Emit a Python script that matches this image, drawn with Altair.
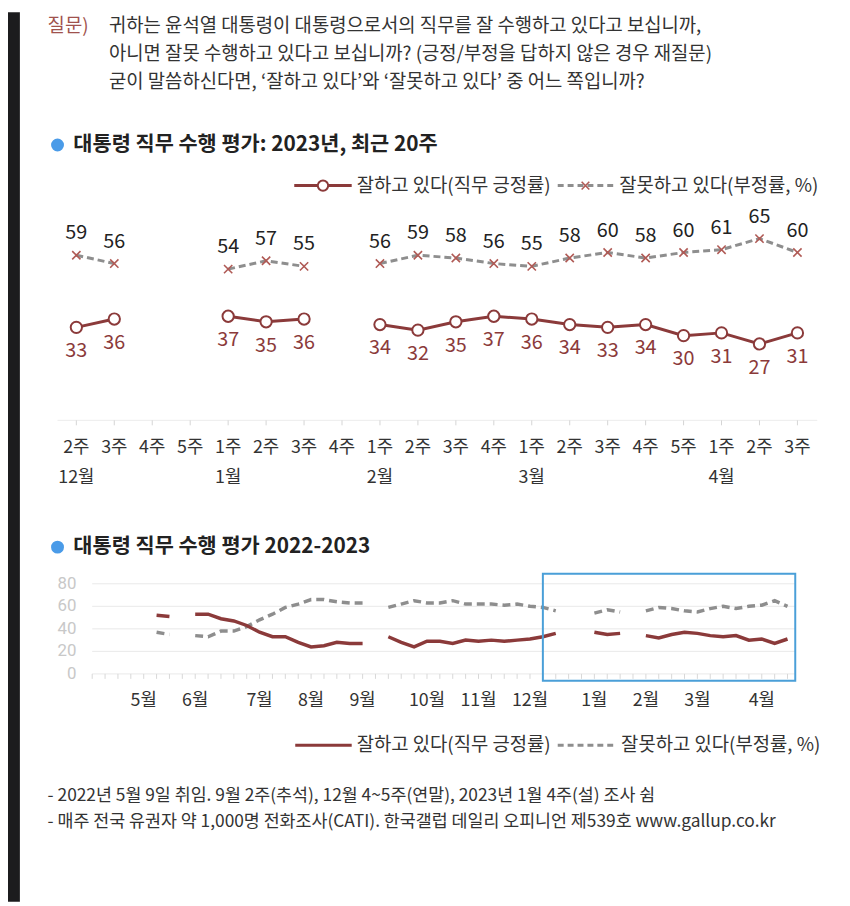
import altair as alt
import pandas as pd

FONT = "Noto Sans CJK KR"
RED = "#8b3a3a"
XRED = "#b05a55"
GRAY = "#8e8e8e"
TXT = "#333333"

# ---------------- data: top chart (2023, last 20 weeks) ----------------
top_week_labels = ["2주", "3주", "4주", "5주", "1주", "2주", "3주", "4주", "1주", "2주",
                   "3주", "4주", "1주", "2주", "3주", "4주", "5주", "1주", "2주", "3주"]
top_month_labels = ["12월", "1월", "2월", "3월", "4월"]
top_month_pos = [0, 4, 8, 12, 17]
top_positive = [33, 36, None, None, 37, 35, 36, None, 34, 32, 35, 37, 36, 34, 33, 34, 30, 31, 27, 31]
top_negative = [59, 56, None, None, 54, 57, 55, None, 56, 59, 58, 56, 55, 58, 60, 58, 60, 61, 65, 60]

# ---------------- data: bottom chart (weekly, index 0 = 2022년 5월 1주) ----------------
bot_month_labels = ["5월", "6월", "7월", "8월", "9월", "10월", "11월", "12월", "1월", "2월", "3월", "4월"]
bot_month_pos = [0, 4, 9, 13, 17, 22, 26, 30, 35, 39, 43, 48]
bot_positive = [None, 52, 51, None, 53, 53, 49, 47, 43, 37, 33, 33, 28, 24, 25, 28, 27, 27, None,
                33, 28, 24, 29, 29, 27, 30, 29, 30, 29, 30, 31, 33, 36, None, None,
                37, 35, 36, None, 34, 32, 35, 37, 36, 34, 33, 34, 30, 31, 27, 31]
bot_negative = [None, 37, 35, None, 34, 33, 38, 38, 42, 48, 53, 59, 62, 66, 66, 64, 63, 63, None,
                59, 62, 65, 63, 63, 65, 62, 62, 62, 61, 62, 60, 59, 56, None, None,
                54, 57, 55, None, 56, 59, 58, 56, 55, 58, 60, 58, 60, 61, 65, 60]
bot_ticks = list(range(-4, 51))
y_ticks = [0, 20, 40, 60, 80]
window_start = 31  # 2022년 12월 2주 (start of the 20-week window)


def series_df(vals):
    rows, seg = [], 0
    for i, v in enumerate(vals):
        if v is None:
            seg += 1
            continue
        rows.append({"i": i, "v": v, "seg": seg})
    return pd.DataFrame(rows)


one = pd.DataFrame({"a": [0]})
O = 8  # page margin offset


def P(v):
    return alt.value(v - O)


def label(text, x, y, size=17, color=TXT, weight="normal", align="left"):
    return alt.Chart(one).mark_text(text=text, align=align, baseline="middle", fontSize=size,
                                    color=color, fontWeight=weight, font=FONT).encode(x=P(x), y=P(y))


TX = alt.Scale(domain=[0, 19], range=[77 - O, 805 - O])
TY = alt.Scale(domain=[0, 80], range=[418.5 - O, 194.5 - O])
BX = alt.Scale(domain=[0, 50], range=[145 - O, 795 - O])
BY = alt.Scale(domain=[0, 80], range=[676 - O, 585 - O])

layers = []

# left dark strip
layers.append(alt.Chart(one).mark_rect(color="#1c1c1e").encode(x=alt.value(0), x2=alt.value(12),
                                                                 y=alt.value(0), y2=alt.value(898)))

# question text
layers.append(label("질문)", 48, 22, size=19, color="#a0524d"))
layers.append(label("귀하는 윤석열 대통령이 대통령으로서의 직무를 잘 수행하고 있다고 보십니까,", 110, 22, size=19))
layers.append(label("아니면 잘못 수행하고 있다고 보십니까? (긍정/부정을 답하지 않은 경우 재질문)", 110, 50, size=19))
layers.append(label("굳이 말씀하신다면, ‘잘하고 있다’와 ‘잘못하고 있다’ 중 어느 쪽입니까?", 110, 78, size=19))

# titles
for ty, tt in [(142, "대통령 직무 수행 평가: 2023년, 최근 20주"), (548, "대통령 직무 수행 평가 2022-2023")]:
    layers.append(alt.Chart(one).mark_point(shape="circle", filled=True, color="#4a9be8", size=170, opacity=1)
                  .encode(x=P(58), y=P(ty)))
    layers.append(label(tt, 74, ty, size=21, color="#222222", weight="bold"))

# ---------------- top chart ----------------
tpos = series_df(top_positive)
tneg = series_df(top_negative)
tw = pd.DataFrame({"i": list(range(len(top_week_labels))), "w": top_week_labels})
tm = pd.DataFrame({"i": top_month_pos, "m": top_month_labels})

tx = alt.X("i:Q", scale=TX, axis=None)
tyq = alt.Y("v:Q", scale=TY, axis=None)

layers.append(alt.Chart(one).mark_rule(color="#ececec", strokeWidth=1).encode(
    x=P(58), x2=P(825), y=P(420)))
layers.append(alt.Chart(tw).mark_rule(color="#d4d4d4", strokeWidth=1).encode(x=tx, y=P(420), y2=P(425)))
layers.append(alt.Chart(tneg).mark_line(color=GRAY, strokeWidth=3, strokeDash=[7, 4]).encode(
    x=tx, y=tyq, detail="seg:N"))
layers.append(alt.Chart(tpos).mark_line(color=RED, strokeWidth=3).encode(x=tx, y=tyq, detail="seg:N"))
layers.append(alt.Chart(tneg).mark_point(shape="M-1,-1L1,1M1,-1L-1,1", filled=False, stroke=XRED,
                                         strokeWidth=1.6, size=70, opacity=1).encode(x=tx, y=tyq))
layers.append(alt.Chart(tpos).mark_point(shape="circle", filled=True, fill="white", stroke=RED,
                                         strokeWidth=2, size=130, opacity=1).encode(x=tx, y=tyq))
layers.append(alt.Chart(tneg).mark_text(dy=-22, fontSize=20, color="#222222", font=FONT).encode(
    x=tx, y=tyq, text="v:Q"))
layers.append(alt.Chart(tpos).mark_text(dy=24, fontSize=20, color=RED, font=FONT).encode(
    x=tx, y=tyq, text="v:Q"))
layers.append(alt.Chart(tw).mark_text(fontSize=18, color=TXT, font=FONT, baseline="middle").encode(
    x=tx, y=P(448), text="w:N"))
layers.append(alt.Chart(tm).mark_text(fontSize=18, color=TXT, font=FONT, baseline="middle").encode(
    x=tx, y=P(478), text="m:N"))

# top legend
layers.append(alt.Chart(one).mark_rule(color=RED, strokeWidth=3).encode(x=P(297), x2=P(355), y=P(183)))
layers.append(alt.Chart(one).mark_point(shape="circle", filled=True, fill="white", stroke=RED,
                                        strokeWidth=2, size=110, opacity=1).encode(x=P(326), y=P(183)))
layers.append(label("잘하고 있다(직무 긍정률)", 360, 183, size=19))
layers.append(alt.Chart(one).mark_rule(color=GRAY, strokeWidth=3, strokeDash=[6, 4]).encode(
    x=P(563), x2=P(620), y=P(183)))
layers.append(alt.Chart(one).mark_point(shape="M-1,-1L1,1M1,-1L-1,1", filled=False, stroke=XRED,
                                        strokeWidth=1.6, size=60, opacity=1).encode(x=P(591), y=P(183)))
layers.append(label("잘못하고 있다(부정률, %)", 625, 183, size=19))

# ---------------- bottom chart ----------------
bpos = series_df(bot_positive)
bneg = series_df(bot_negative)
bt = pd.DataFrame({"i": bot_ticks})
bm = pd.DataFrame({"i": bot_month_pos, "m": bot_month_labels})
yt = pd.DataFrame({"v": y_ticks})
box = pd.DataFrame({"x": [window_start], "x2": [len(bot_positive) - 1 + 0.6], "y": [-6], "y2": [89]})

bx = alt.X("i:Q", scale=BX, axis=None)
byq = alt.Y("v:Q", scale=BY, axis=None)

layers.append(alt.Chart(yt).mark_rule(color="#e9e9e9", strokeWidth=1).encode(
    y=byq, x=P(93), x2=P(803)))
layers.append(alt.Chart(yt).mark_text(align="right", baseline="middle", fontSize=17, color="#c8c8c8",
                                      font="Roboto").encode(y=byq, x=P(77), text="v:Q"))
layers.append(alt.Chart(bt).mark_rule(color="#d8d8d8", strokeWidth=1).encode(x=bx, y=P(676), y2=P(681)))
layers.append(alt.Chart(bneg).mark_line(color=GRAY, strokeWidth=3.5, strokeDash=[8, 5]).encode(
    x=bx, y=byq, detail="seg:N"))
layers.append(alt.Chart(bpos).mark_line(color=RED, strokeWidth=3.5).encode(x=bx, y=byq, detail="seg:N"))
layers.append(alt.Chart(box).mark_rect(fillOpacity=0, stroke="#4a9fd8", strokeWidth=2).encode(
    x=alt.X("x:Q", scale=BX, axis=None), x2="x2:Q", y=alt.Y("y:Q", scale=BY, axis=None), y2="y2:Q"))
layers.append(alt.Chart(bm).mark_text(fontSize=18, color=TXT, font=FONT, baseline="middle").encode(
    x=bx, y=P(703), text="m:N"))

# bottom legend
layers.append(alt.Chart(one).mark_rule(color=RED, strokeWidth=3).encode(x=P(298), x2=P(355), y=P(748)))
layers.append(label("잘하고 있다(직무 긍정률)", 360, 748, size=19))
layers.append(alt.Chart(one).mark_rule(color=GRAY, strokeWidth=3, strokeDash=[6, 4]).encode(
    x=P(563), x2=P(622), y=P(748)))
layers.append(label("잘못하고 있다(부정률, %)", 627, 748, size=19))

# footnotes
layers.append(label("- 2022년 5월 9일 취임. 9월 2주(추석), 12월 4~5주(연말), 2023년 1월 4주(설) 조사 쉼", 48, 799, size=17.5))
layers.append(label("- 매주 전국 유권자 약 1,000명 전화조사(CATI). 한국갤럽 데일리 오피니언 제539호 www.gallup.co.kr", 48, 826, size=17.5))

chart = alt.layer(*layers).resolve_scale(x="independent", y="independent").properties(
    width=842, height=898, autosize=alt.AutoSizeParams(type="none"), padding=0, background="white"
).configure_view(strokeWidth=0)

chart.save("out.html", embed_options={"renderer": "svg", "actions": False})
